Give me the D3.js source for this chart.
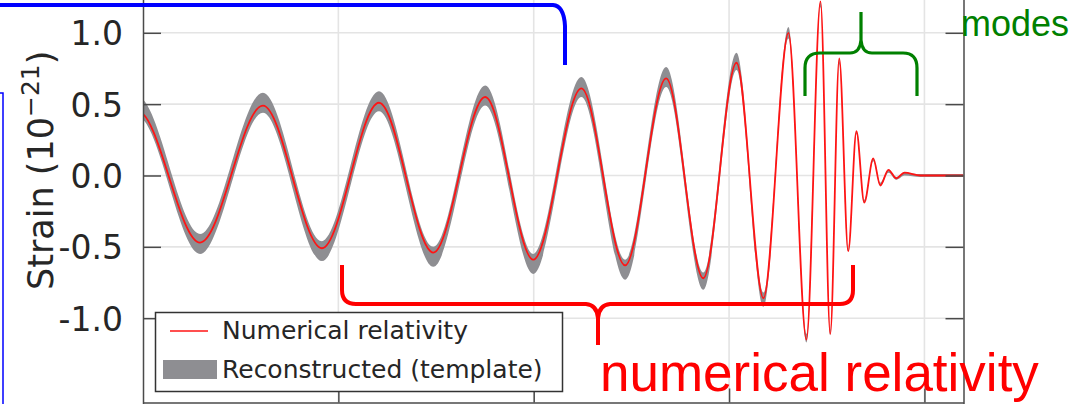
<!DOCTYPE html>
<html>
<head>
<meta charset="utf-8">
<script src="https://cdn.jsdelivr.net/npm/d3@7"></script>
<style>
  body { margin: 0; background: #fff; }
  svg { display: block; }
</style>
</head>
<body>
<svg id="chart" width="1085" height="404"></svg>
<script>
// peaks and troughs of the numerical relativity waveform (time in s, strain in 1e-21)
var nrTime = [0.2330, 0.2487, 0.2646, 0.2807, 0.2958, 0.3104, 0.3243, 0.3376, 0.3499, 0.3622, 0.3734,
              0.3839, 0.3934, 0.4019, 0.4088, 0.4152, 0.4198, 0.4234, 0.4259, 0.4282, 0.4305,
              0.4326, 0.4346, 0.4369, 0.4387, 0.4408, 0.4428, 0.4449, 0.4490, 0.4600];
var nrStrain = [-0.45, 0.45, -0.47, 0.49, -0.51, 0.51, -0.54, 0.55, -0.59, 0.61, -0.63,
                0.68, -0.72, 0.79, -0.86, 1.00, -1.15, 1.22, -1.11, 0.82, -0.53,
                0.31, -0.19, 0.12, -0.07, 0.04, -0.02, 0.02, 0.00, 0.00];

// reconstructed template band: centre and half height
var tplTime = [0.2330, 0.2487, 0.2646, 0.2807, 0.2958, 0.3104, 0.3243, 0.3376, 0.3499, 0.3622, 0.3734,
               0.3839, 0.3934, 0.4019, 0.4088, 0.4152, 0.4198, 0.4234, 0.4259, 0.4282, 0.4305,
               0.4326, 0.4346, 0.4369, 0.4387, 0.4408, 0.4428, 0.4449, 0.4490, 0.4600];
var tplStrain = [-0.47, 0.48, -0.48, 0.51, -0.53, 0.52, -0.57, 0.56, -0.62, 0.62, -0.66,
                 0.69, -0.74, 0.80, -0.87, 1.00, -1.14, 1.20, -1.10, 0.80, -0.52,
                 0.30, -0.18, 0.11, -0.06, 0.03, -0.02, 0.01, 0.00, 0.00];
var tplHalf = [0.07, 0.07, 0.07, 0.07, 0.07, 0.07, 0.07, 0.07, 0.07, 0.07, 0.07,
               0.07, 0.06, 0.06, 0.05, 0.04, 0.03, 0.02, 0.02, 0.02, 0.01,
               0.01, 0.01, 0.01, 0.01, 0.01, 0.01, 0.01, 0.01, 0.01];

var yTicks = [-1.0, -0.5, 0.0, 0.5, 1.0];
var xTicks = [0.30, 0.35, 0.40, 0.45];
var legendLabels = ["Numerical relativity", "Reconstructed (template)"];
var yLabel = "Strain (10";
var ySup = "\u221221";

var nr = nrTime.map(function(t, i) { return { t: t, v: nrStrain[i] }; });
var tpl = tplTime.map(function(t, i) { return { t: t, v: tplStrain[i], h: tplHalf[i] }; });

// plot box (top edge lies above the picture)
var pLeft = 143, pRight = 963.5, pBottom = 402.5, pTop = -10;

var x = d3.scaleLinear().domain([0.25, 0.46]).range([pLeft, pRight]);
var y = d3.scaleLinear().domain([-1.6, 1.3]).range([403.8, -10]);

var svg = d3.select("#chart");

svg.append("defs").append("clipPath").attr("id", "plotclip")
  .append("rect")
  .attr("x", pLeft).attr("y", pTop)
  .attr("width", pRight - pLeft).attr("height", pBottom - pTop);

// grid
var grid = svg.append("g").attr("stroke", "#e4e4e4").attr("stroke-width", 1.6);
grid.selectAll(".gy").data(yTicks).enter().append("line")
  .attr("x1", pLeft).attr("x2", pRight)
  .attr("y1", function(d) { return y(d); }).attr("y2", function(d) { return y(d); });
grid.selectAll(".gx").data(xTicks).enter().append("line")
  .attr("y1", pTop).attr("y2", pBottom)
  .attr("x1", function(d) { return x(d); }).attr("x2", function(d) { return x(d); });

var plot = svg.append("g").attr("clip-path", "url(#plotclip)");

// template band
var band = d3.area()
  .x(function(d) { return x(d.t); })
  .y0(function(d) { return y(d.v - d.h); })
  .y1(function(d) { return y(d.v + d.h); })
  .curve(d3.curveMonotoneX);

plot.append("path")
  .datum(tpl)
  .attr("d", band)
  .attr("fill", "#8e8e92");

// numerical relativity line
var line = d3.line()
  .x(function(d) { return x(d.t); })
  .y(function(d) { return y(d.v); })
  .curve(d3.curveMonotoneX);

plot.append("path")
  .datum(nr)
  .attr("d", line)
  .attr("fill", "none")
  .attr("stroke", "#ff1414")
  .attr("stroke-width", 1.8);

// axes
var axisColor = "#4a4a4a";

var yAxis = svg.append("g")
  .attr("transform", "translate(" + pLeft + ",0)")
  .call(d3.axisLeft(y).tickValues(yTicks).tickSize(-18).tickSizeOuter(0).tickPadding(20)
    .tickFormat(function(d) { return d.toFixed(1); }));
yAxis.attr("color", axisColor);
yAxis.selectAll("line").attr("stroke-width", 1.5);
yAxis.select(".domain").attr("stroke-width", 1.5);
yAxis.selectAll("text")
  .attr("fill", "#262626")
  .attr("dy", "0.36em")
  .style("font-family", "'DejaVu Sans', sans-serif")
  .style("font-size", "33px");

var rAxis = svg.append("g")
  .attr("transform", "translate(" + pRight + ",0)")
  .call(d3.axisRight(y).tickValues(yTicks).tickSize(-18).tickSizeOuter(0).tickFormat(""));
rAxis.attr("color", axisColor);
rAxis.selectAll("line").attr("stroke-width", 1.5);
rAxis.select(".domain").attr("stroke-width", 1.5);

var xAxis = svg.append("g")
  .attr("transform", "translate(0," + pBottom + ")")
  .call(d3.axisBottom(x).tickValues(xTicks).tickSize(-14).tickSizeOuter(0).tickFormat(""));
xAxis.attr("color", axisColor);
xAxis.selectAll("line").attr("stroke-width", 1.5);
xAxis.select(".domain").attr("stroke-width", 1.5);

// y label
var yl = svg.append("text")
  .attr("transform", "translate(53,290) rotate(-90)")
  .attr("fill", "#262626")
  .style("font-family", "'DejaVu Sans', sans-serif")
  .style("font-size", "35px");
yl.append("tspan").text(yLabel);
yl.append("tspan").attr("dy", -14).style("font-size", "25px").text(ySup);
yl.append("tspan").attr("dy", 14).text(")");

// legend
var legend = svg.append("g");
legend.append("rect")
  .attr("x", 155.5).attr("y", 312.5).attr("width", 407).attr("height", 79)
  .attr("fill", "#fff").attr("stroke", "#333").attr("stroke-width", 1.5);
legend.append("line")
  .attr("x1", 170).attr("x2", 208).attr("y1", 331).attr("y2", 331)
  .attr("stroke", "#ff1414").attr("stroke-width", 1.5);
legend.append("rect")
  .attr("x", 163).attr("y", 360).attr("width", 54).attr("height", 19)
  .attr("fill", "#8e8e92");
legend.selectAll(".lt").data(legendLabels).enter().append("text")
  .attr("x", 222)
  .attr("y", function(d, i) { return i === 0 ? 338.5 : 377.5; })
  .attr("fill", "#262626")
  .style("font-family", "'DejaVu Sans', sans-serif")
  .style("font-size", "25px")
  .text(function(d) { return d; });

// annotations
svg.append("path")
  .attr("d", "M0,5 L553,5 Q564,6 565,26 L565,65")
  .attr("fill", "none").attr("stroke", "#0000ff").attr("stroke-width", 4);
svg.append("path")
  .attr("d", "M0,93 L3,93 L3,404")
  .attr("fill", "none").attr("stroke", "#0000ff").attr("stroke-width", 1.5);

svg.append("path")
  .attr("d", "M342,265 L342,290 Q342,304 356,304 L586,304 Q597,305 598,318 L598,345 M598,318 Q599,305 610,304 L840,304 Q853,304 853,290 L853,265")
  .attr("fill", "none").attr("stroke", "#ff0000").attr("stroke-width", 4).attr("stroke-linejoin", "round");

svg.append("path")
  .attr("d", "M805,96 L805,68 Q805,53 820,53 L850,53 Q860,53 861,40 L861,12 M861,40 Q862,53 872,53 L903,53 Q917,53 917,68 L917,96")
  .attr("fill", "none").attr("stroke", "#008000").attr("stroke-width", 3.2).attr("stroke-linejoin", "round");

svg.append("text")
  .attr("x", 600).attr("y", 391)
  .attr("fill", "#ff0000")
  .style("font-family", "'Liberation Sans', Arial, sans-serif")
  .style("font-size", "53px")
  .text("numerical relativity");

svg.append("text")
  .attr("x", 961).attr("y", 36)
  .attr("fill", "#008000")
  .style("font-family", "'Liberation Sans', Arial, sans-serif")
  .style("font-size", "36px")
  .text("modes");
</script>
</body>
</html>
